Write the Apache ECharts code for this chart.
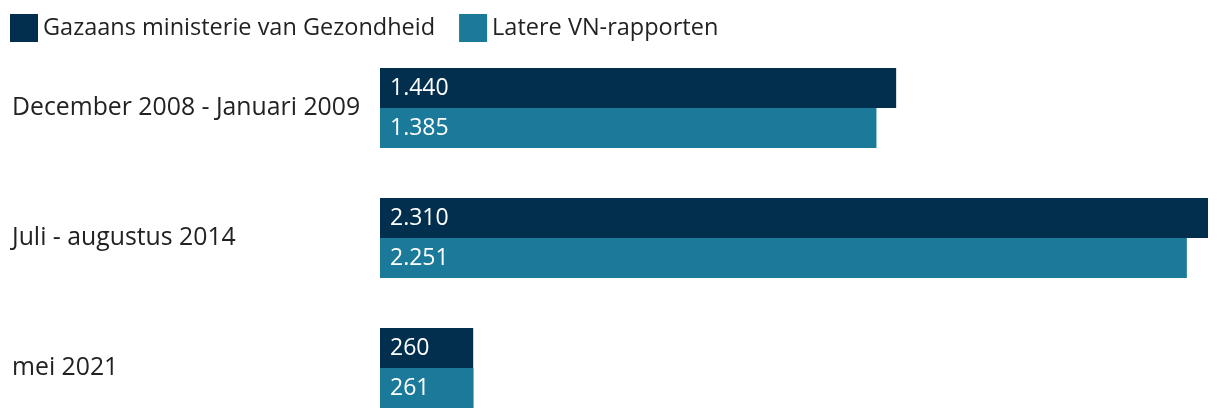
<!DOCTYPE html>
<html><head><meta charset="utf-8">
<script src="https://cdn.jsdelivr.net/npm/echarts@6/dist/echarts.min.js"></script>
<style>html,body{margin:0;padding:0;background:#fff}#c{width:1220px;height:420px}</style>
</head><body><div id="c"></div>
<script>
const categories = ['December 2008 - Januari 2009', 'Juli - augustus 2014', 'mei 2021'];
const seriesNames = ['Gazaans ministerie van Gezondheid', 'Latere VN-rapporten'];
const ministry = [1440, 2310, 260];
const un = [1385, 2251, 261];

const fmt = v => String(v).replace(/\B(?=(\d{3})+(?!\d))/g, '.');
const font = '"Open Sans", sans-serif';
const chart = echarts.init(document.getElementById('c'));
const lbl = {show: true, position: 'insideLeft', distance: 10, color: '#fff', fontSize: 23, fontFamily: font,
  formatter: p => fmt(p.value)};
chart.setOption({
  animation: false,
  textStyle: {fontFamily: font},
  legend: {left: 10, top: 14, padding: 0, itemWidth: 28, itemHeight: 28, itemGap: 24, icon: 'rect',
    textStyle: {fontSize: 23.5, color: '#222', fontFamily: font}},
  grid: {left: 380, right: 12, top: 108, height: 260, containLabel: false},
  xAxis: {type: 'value', min: 0, max: 2310, show: false},
  yAxis: {type: 'category', data: categories, inverse: true, boundaryGap: false,
    axisLine: {show: false}, axisTick: {show: false}, splitLine: {show: false},
    axisLabel: {align: 'left', margin: 368, fontSize: 24.8, color: '#222', fontFamily: font}},
  series: [
    {name: seriesNames[0], type: 'bar', data: ministry, barWidth: 40, barGap: '0%', clip: false, itemStyle: {color: '#022f4d'}, label: lbl},
    {name: seriesNames[1], type: 'bar', data: un, barWidth: 40, barGap: '0%', clip: false, itemStyle: {color: '#1b7999'}, label: lbl}
  ]
});
</script></body></html>
